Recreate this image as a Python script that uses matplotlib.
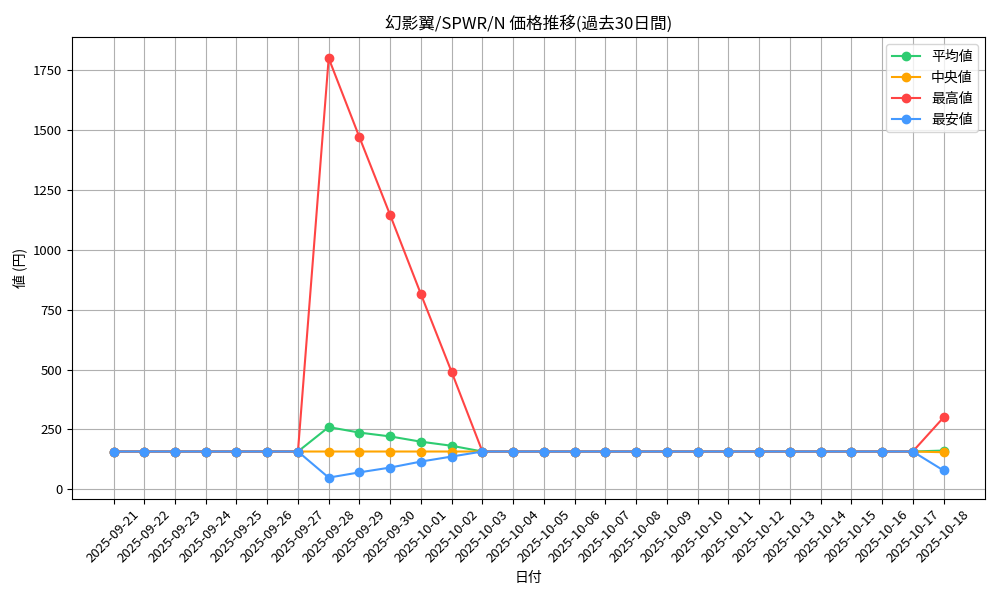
import matplotlib
matplotlib.use('Agg')
import matplotlib.pyplot as plt
import pandas as pd

plt.rcParams['font.family'] = ['Noto Sans CJK JP', 'DejaVu Sans']

# 日付 (2025-09-21 .. 2025-10-18)
dates = [d.strftime('%Y-%m-%d') for d in pd.date_range('2025-09-21', '2025-10-18')]

base = 158
avg_vals = [base] * 7 + [260, 237, 221, 199, 182] + [base] * 15 + [162]
med_vals = [base] * 27 + [155]
max_vals = [base] * 7 + [1800, 1470, 1145, 815, 490] + [base] * 15 + [300]
min_vals = [base] * 7 + [49, 71, 91, 116, 137] + [base] * 15 + [79]

fig, ax = plt.subplots(figsize=(10, 6), dpi=100)
x = range(len(dates))
ax.plot(x, avg_vals, marker='o', color='#2ecc71', label='平均値')
ax.plot(x, med_vals, marker='o', color='#ffa500', label='中央値')
ax.plot(x, max_vals, marker='o', color='#ff4444', label='最高値')
ax.plot(x, min_vals, marker='o', color='#4499ff', label='最安値')

ax.set_xticks(list(x))
ax.set_xticklabels(dates, rotation=45, fontsize=9.5)
ax.tick_params(axis='y', labelsize=9.5)
ax.set_title('幻影翼/SPWR/N 価格推移(過去30日間)')
ax.set_xlabel('日付')
ax.set_ylabel('値 (円)')
ax.grid(True)
ax.legend(loc='upper right')
plt.subplots_adjust(left=0.072, right=0.985, top=0.938, bottom=0.169)
plt.savefig('out.png')
